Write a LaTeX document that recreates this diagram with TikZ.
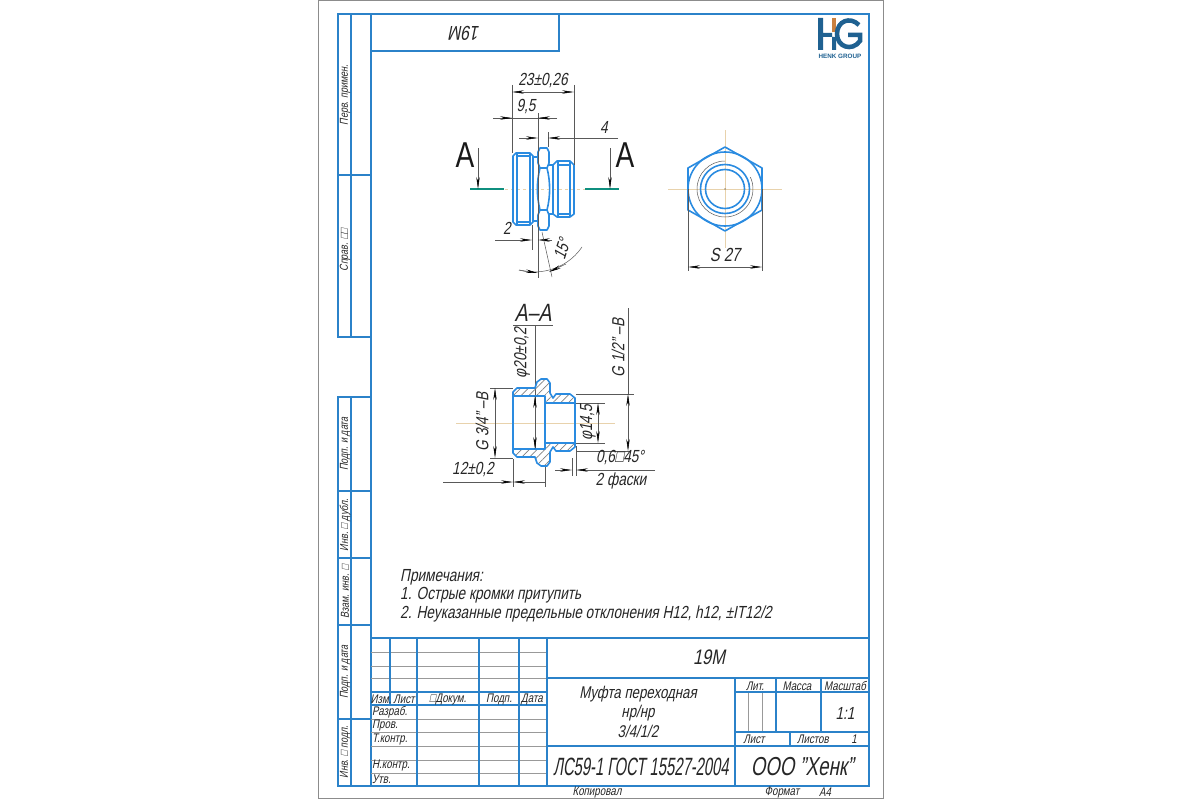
\documentclass[tikz,border=0pt]{standalone}
\usepackage{fontspec}
\usepackage{xcolor}
\usetikzlibrary{arrows.meta,patterns.meta}
\setmainfont{Liberation Sans}[FakeSlant=0.2,FakeStretch=0.78]
\newfontfamily\uprightfont{Liberation Sans}[FakeStretch=0.78]
\newfontfamily\logofont{Liberation Sans}
\definecolor{frameblue}{HTML}{2B82C9}
\definecolor{partblue}{HTML}{2A8BE0}
\definecolor{cutteal}{HTML}{0F8F7F}
\definecolor{axistan}{HTML}{E8D2AC}
\definecolor{logoblue}{HTML}{1F6191}
\definecolor{logoorange}{HTML}{C9803F}
\tikzset{
    frame-line/.style = {draw=frameblue, line width=1.4pt},
    table-line/.style = {draw=black!40, line width=0.8pt},
    part-line/.style = {draw=partblue, line width=1.6pt, line join=round},
    part-thick/.style = {draw=partblue, line width=2.4pt},
    dim-line/.style = {draw=black!65, line width=0.5pt},
    dim-both/.style = {dim-line, {Stealth[length=12pt,width=3.4pt,black]}-{Stealth[length=12pt,width=3.4pt,black]}},
    dim-tip/.style = {dim-line, -{Stealth[length=12pt,width=3.4pt,black]}},
    axis-line/.style = {draw=axistan, line width=0.8pt},
    cut-line/.style = {draw=cutteal, line width=2pt},
    hatch-part/.style = {part-line, pattern={Lines[angle=45,distance=5.5pt,line width=0.7pt]}, pattern color=black!50},
    label-big/.style = {inner sep=0pt, text=black!85, font=\fontsize{17}{20}\selectfont},
    label-dim/.style = {inner sep=0pt, text=black!85, font=\fontsize{17.5}{20}\selectfont},
    label-cut/.style = {inner sep=0pt, text=black!90, font=\uprightfont\fontsize{36}{40}\selectfont},
    label-cell/.style = {inner sep=0pt, text=black!85, font=\fontsize{12.5}{14}\selectfont},
    label-row/.style = {label-cell, anchor=west},
    label-side/.style = {label-cell, rotate=90, font=\fontsize{11.5}{13}\selectfont},
}
\begin{document}
\begin{tikzpicture}[x=1pt,y=-1pt]
\useasboundingbox (0,0) rectangle (1200,800);
% sheet and frame
\draw[draw=black!45, line width=1pt] (318,1) rectangle (883,798);
\draw[frame-line] (371,14) rectangle (869,786);
\draw[frame-line] (371,51) -- (559,51) -- (559,14);
\node[label-big, rotate=180, font=\fontsize{20}{24}\selectfont] (stamp) at (465,33) {19M};
% side strip
\draw[frame-line] (371,14) -| (338,337) -- (371,337);
\draw[frame-line] (371,397) -| (338,786) -- (371,786);
\draw[frame-line] (351,14) -- (351,337) (351,397) -- (351,786);
\foreach \y in {175,491,558,625,719}
    \draw[frame-line] (338,\y) -- (371,\y);
\node[label-side] (perv) at (345,95) {Перв. примен.};
\node[label-side] (sprav) at (345,250) {Справ. □□};
\node[label-side] (podp-a) at (345,444) {Подп. и дата};
\node[label-side] (dubl) at (345,525) {Инв. □ дубл.};
\node[label-side] (vzam) at (345,592) {Взам. инв. □};
\node[label-side] (podp-b) at (345,672) {Подп. и дата};
\node[label-side] (podl) at (345,752) {Инв. □ подл.};
% logo
\fill[logoblue] (818,18) rectangle (823,50) (823,33) rectangle (832,37) (832,37) rectangle (836,50);
\fill[logoorange] (832,18) rectangle (836,32);
\draw[logoblue, line width=4.5pt] (859,25) .. controls (850,16) and (837,21) .. (837,34) .. controls (837,47) and (852,52) .. (860,41) -- (860,35) -- (848,35);
\node[inner sep=0pt, text=logoblue, font=\logofont\fontsize{6.3}{8}\bfseries\selectfont] (logo-name) at (840,56) {HENK GROUP};
% side view
\draw[axis-line, dashed] (505,189) -- (585,189);
\draw[part-line] (516,153) -- (530,153) -- (533,156) -- (533,222) -- (530,225) -- (516,225) -- (513,222) -- (513,156) -- cycle;
\draw[part-line] (517,153) -- (517,225) (530,153) -- (530,225) (517,156) -- (530,156) (517,222) -- (530,222);
\draw[part-line] (533,157) -- (538,157) (533,221) -- (538,221);
\draw[part-line] (540,148) -- (547,148) -- (549,152) -- (549,163) -- (547,168) -- (540,168) -- (538,163) -- (538,152) -- cycle;
\draw[part-line] (540,230) -- (547,230) -- (549,226) -- (549,215) -- (547,210) -- (540,210) -- (538,215) -- (538,226) -- cycle;
\draw[part-line] (540,168) .. controls (536.5,182) and (536.5,196) .. (540,210);
\draw[part-line] (547,168) .. controls (550.5,182) and (550.5,196) .. (547,210);
\draw[part-line] (549,165) -- (553,165) (549,214) -- (553,214);
\draw[part-line] (557,161) -- (570,161) -- (574,165) -- (574,214) -- (570,217) -- (557,217) -- (553,214) -- (553,165) -- cycle;
\draw[part-line] (558,161) -- (558,217) (570,161) -- (570,217) (558,165) -- (570,165) (558,214) -- (570,214);
% section marks
\draw[cut-line] (470,189) -- (504,189);
\draw[cut-line] (585,189) -- (619,189);
\draw[dim-tip] (478,148) -- (478,189);
\draw[dim-tip] (610,148) -- (610,189);
\node[label-cut] (cut-left) at (465,155) {A};
\node[label-cut] (cut-right) at (625,155) {A};
% side view dimensions
\draw[dim-line] (512,85) -- (512,153) (574,85) -- (574,165) (538,113) -- (538,278) (548,132) -- (548,147) (532,225) -- (532,250);
\draw[dim-both] (512,92) -- (574,92);
\node[label-dim] (dim-len) at (543,81) {23±0,26};
\draw[dim-line] (493,118) -- (557,118);
\draw[dim-tip] (493,118) -- (512,118);
\draw[dim-tip] (557,118) -- (538,118);
\node[label-dim] (dim-nine) at (526,107) {9,5};
\draw[dim-tip] (519,138) -- (538,138);
\draw[dim-tip] (618,138) -- (548,138);
\node[label-dim] (dim-four) at (604,127) {4};
\draw[dim-tip] (495,240) -- (532,240);
\draw[dim-tip] (552,240) -- (538,240);
\node[label-dim] (dim-two) at (507,228) {2};
\draw[dim-line] (542,232) -- (552,277);
\draw[dim-line] (519,270) .. controls (535,275) and (565,272) .. (582,247);
\draw[dim-tip] (519,270) -- (538,273);
\draw[dim-tip] (566,264) -- (549,272);
\node[label-dim, rotate=72] (dim-angle) at (562,249) {15°};
% end view
\draw[axis-line] (668,189) -- (782,189) (725,130) -- (725,248);
\fill[axistan!70!black] (725,189) circle (1pt);
\draw[part-line] (725,147) -- (762,168) -- (762,210) -- (725,231) -- (688,210) -- (688,168) -- cycle;
\draw[part-line] (725,189) circle (37) (725,189) circle (24.5) (725,189) circle (19.5);
\draw[dim-line] (725,161) arc[start angle=90, end angle=385, radius=28pt];
\draw[dim-line] (688,189) -- (688,271) (762,189) -- (762,271);
\draw[dim-both] (688,267) -- (762,267);
\node[label-dim, font=\fontsize{19}{22}\selectfont] (dim-key) at (725,255) {S 27};
% section A-A
\node[label-big, font=\fontsize{25}{28}\selectfont] (sec-title) at (533,313) {A--A};
\draw[dim-line] (513,325) -- (553,325) (535,325) -- (535,449);
\draw[axis-line] (456,423) -- (615,423);
\draw[hatch-part] (513,392) -- (517,388) -- (535,388) -- (537,382) -- (541,379) -- (547,379) -- (550,383) -- (550,393) -- (553,398) -- (556,394) -- (570,394) -- (575,398) -- (575,403) -- (545,403) -- (545,396) -- (513,396) -- cycle;
\draw[hatch-part] (513,453) -- (517,457) -- (535,457) -- (537,463) -- (541,466) -- (547,466) -- (550,462) -- (550,452) -- (553,447) -- (556,451) -- (570,451) -- (575,447) -- (575,443) -- (545,443) -- (545,449) -- (513,449) -- cycle;
\draw[part-thick] (513,396) -- (513,449) (575,403) -- (575,443);
\draw[part-line] (545,403) -- (545,443);
\draw[dim-both] (535,396) -- (535,449);
% section dimensions
\draw[dim-line] (490,388) -- (513,388) (490,458) -- (513,458);
\draw[dim-both] (495,388) -- (495,458);
\node[label-dim, rotate=90] (dim-big) at (482,422) {G 3/4" --B};
\node[label-dim, rotate=90] (dim-dia) at (522,353) {φ20±0,2};
\draw[dim-line] (576,403) -- (605,403) (576,443) -- (605,443);
\draw[dim-both] (598,403) -- (598,443);
\node[label-dim, rotate=90] (dim-bore) at (588,423) {φ14,5};
\draw[dim-line] (576,394) -- (634,394) (576,451) -- (630,451);
\draw[dim-line] (628,308) -- (628,394);
\draw[dim-both] (628,394) -- (628,451);
\node[label-dim, rotate=90] (dim-small) at (618,348) {G 1/2" --B};
\draw[dim-line] (513,459) -- (513,487) (545,467) -- (545,487);
\draw[dim-tip] (443,482) -- (513,482);
\draw[dim-tip] (545,482) -- (513,482);
\node[label-dim] (dim-wall) at (473,470) {12±0,2};
\draw[dim-line] (572,458) -- (572,476) (576,446) -- (576,476);
\draw[dim-tip] (555,470) -- (572,470);
\draw[dim-tip] (655,470) -- (576,470);
\node[label-dim] (dim-chamfer) at (620,458) {0,6□45°};
\node[label-dim] (dim-count) at (621,481) {2 фаски};
% notes
\node[label-dim, anchor=west] (note-head) at (400,577) {Примечания:};
\node[label-dim, anchor=west] (note-one) at (400,595) {1. Острые кромки притупить};
\node[label-dim, anchor=west] (note-two) at (400,614) {2. Неуказанные предельные отклонения H12, h12, ±IT12/2};
% title block
\foreach \y in {652,666,678,719,732,746,760,773}
    \draw[table-line] (371,\y) -- (547,\y);
\draw[table-line] (748,692) -- (748,732) (762,692) -- (762,732);
\draw[frame-line] (371,638) -- (869,638) (371,692) -- (547,692) (371,705) -- (547,705);
\draw[frame-line] (390,638) -- (390,705);
\foreach \x in {417,479,519,547}
    \draw[frame-line] (\x,638) -- (\x,786);
\draw[frame-line] (547,678) -- (869,678) (547,746) -- (869,746);
\draw[frame-line] (735,678) -- (735,786) (735,692) -- (869,692) (735,732) -- (869,732);
\draw[frame-line] (776,678) -- (776,732) (821,678) -- (821,732) (790,732) -- (790,746);
\node[label-big, font=\fontsize{21}{24}\selectfont] (name) at (709,657) {19M};
\node[label-big] (title-a) at (638,694) {Муфта переходная};
\node[label-big] (title-b) at (638,713) {нр/нр};
\node[label-big] (title-c) at (638,731) {3/4/1/2};
\node[label-big, font=\fontsize{25}{28}\selectfont] (material) at (641,767) {\scalebox{0.76}[1]{ЛС59-1 ГОСТ 15527-2004}};
\node[label-big, font=\fontsize{26}{30}\selectfont] (firm) at (802,767) {\scalebox{0.92}[1]{ООО "Хенк"}};
\node[label-cell] (lit) at (755,686) {Лит.};
\node[label-cell] (mass) at (797,686) {Масса};
\node[label-cell] (scale) at (845,686) {Масштаб};
\node[label-dim] (scale-val) at (845,713) {1:1};
\node[label-cell] (sheet) at (754,739) {Лист};
\node[label-cell] (sheets) at (813,739) {Листов};
\node[label-cell] (sheets-val) at (854,739) {1};
\node[label-cell] (col-izm) at (381,699) {Изм.};
\node[label-cell] (col-list) at (404,699) {Лист};
\node[label-cell] (col-doc) at (448,699) {□Докум.};
\node[label-cell] (col-sign) at (499,699) {Подп.};
\node[label-cell] (col-date) at (532,699) {Дата};
\node[label-row] (row-a) at (372,712) {Разраб.};
\node[label-row] (row-b) at (372,725) {Пров.};
\node[label-row] (row-c) at (372,739) {Т.контр.};
\node[label-row] (row-d) at (372,765) {Н.контр.};
\node[label-row] (row-e) at (372,779) {Утв.};
\node[label-cell] (copied) at (597,792) {Копировал};
\node[label-cell] (format) at (782,792) {Формат};
\node[label-cell] (format-val) at (825,792) {А4};
\end{tikzpicture}
\end{document}
